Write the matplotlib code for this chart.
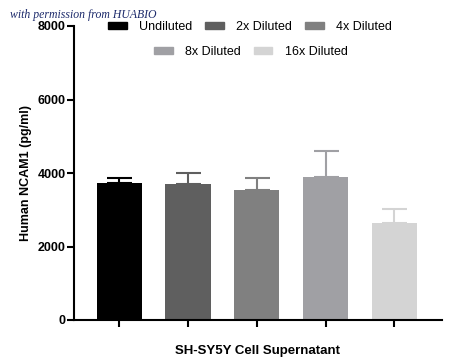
import numpy as np
import matplotlib
matplotlib.use("Agg")
import matplotlib.pyplot as plt
from matplotlib.patches import Patch

plt.rcParams['font.family'] = ['Liberation Sans', 'DejaVu Sans']

groups = ["Undiluted", "2x Diluted", "4x Diluted", "8x Diluted", "16x Diluted"]
means = [3720, 3690, 3540, 3890, 2640]
errs = [155, 300, 320, 710, 390]
colors = ["#000000", "#5f5f5f", "#808080", "#a0a0a4", "#d4d4d4"]
yticks = [0, 2000, 4000, 6000, 8000]

fig = plt.figure(figsize=(4.5, 3.63), dpi=100)
ax = fig.add_axes([74 / 450, 1 - 320 / 363, (441.7 - 74) / 450, (320 - 26) / 363])

x = np.arange(len(groups))
ax.bar(x, means, width=0.66, color=colors, zorder=2)
for xi, m, e, c in zip(x, means, errs, colors):
    ax.errorbar(xi, m, yerr=[[0], [e]], color=c, capsize=9, elinewidth=1.5,
                capthick=1.5, zorder=1)

ax.set_xlim(-0.66, 4.69)
ax.set_ylim(0, 8000)
ax.set_yticks(yticks)
ax.set_xticks(x)
ax.set_xticklabels([])
for lab in ax.get_yticklabels():
    lab.set_fontweight('bold')
ax.tick_params(axis='both', width=1.5, length=5, labelsize=9, pad=1)
for s in ['top', 'right']:
    ax.spines[s].set_visible(False)
for s in ['left', 'bottom']:
    ax.spines[s].set_linewidth(1.5)
ax.spines['left'].set_capstyle('projecting')

ax.set_ylabel("Human NCAM1 (pg/ml)", fontsize=9, fontweight='bold', labelpad=4)
ax.set_xlabel("SH-SY5Y Cell Supernatant", fontsize=9.5, fontweight='bold', labelpad=12)

handles = [Patch(color=c, label=g) for c, g in zip(colors, groups)]
kw = dict(frameon=False, fontsize=9, handlelength=1.5, handleheight=0.4,
          handletextpad=1.0, columnspacing=1.0, borderpad=0, borderaxespad=0)
fig.legend(handles=handles[:3], ncol=3, loc='center',
           bbox_to_anchor=(250 / 450, 1 - 27 / 363), **kw)
fig.legend(handles=handles[3:], ncol=2, loc='center',
           bbox_to_anchor=(251 / 450, 1 - 52 / 363), **kw)

fig.text(10 / 450, 1 - 15 / 363, "with permission from HUABIO", fontsize=8.5,
         family='Liberation Serif', style='italic', color='#1c2a6b', va='center')

fig.savefig("out.png", dpi=100)
